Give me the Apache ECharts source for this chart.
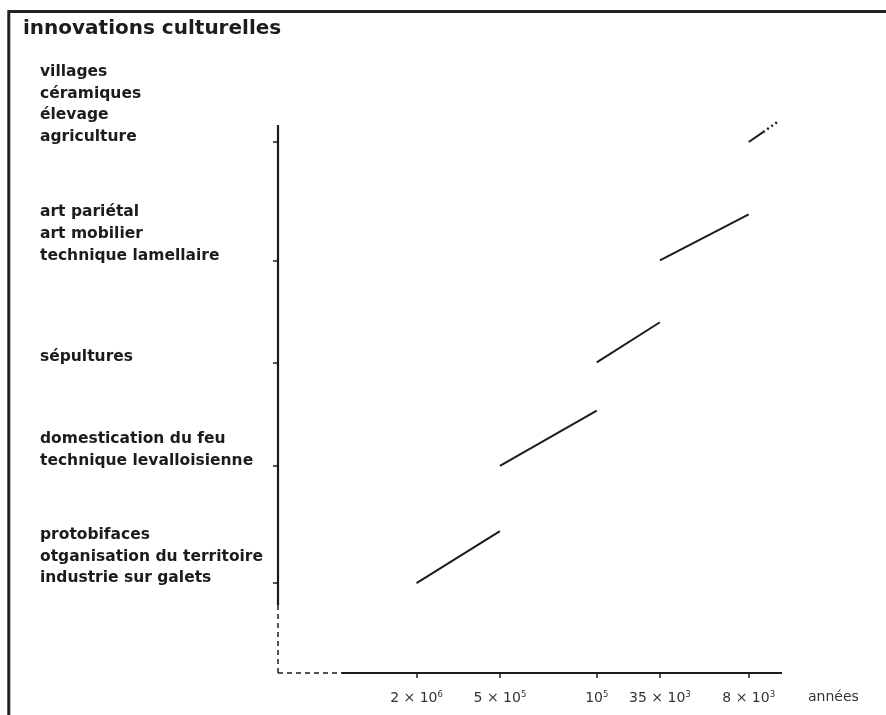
<!DOCTYPE html>
<html>
<head>
<meta charset="utf-8">
<script src="https://cdn.jsdelivr.net/npm/echarts@6/dist/echarts.min.js"></script>
<style>
html,body{margin:0;padding:0;background:#ffffff;}
#c{width:886px;height:715px;}
</style>
</head>
<body>
<div id="c"></div>
<script>
// ---------- data ----------
const chartTitle = 'innovations culturelles';
const innovationGroups = [
  ['protobifaces', 'otganisation du territoire', 'industrie sur galets'],
  ['domestication du feu', 'technique levalloisienne'],
  ['sépultures'],
  ['art pariétal', 'art mobilier', 'technique lamellaire'],
  ['villages', 'céramiques', 'élevage', 'agriculture']
];
// cumulative level (arbitrary 0..100 scale) at start and end of each segment
const levelStart = [16.4, 37.8, 56.7, 75.3, 96.9];
const levelEnd   = [25.9, 47.9, 64.0, 83.7, 98.7];
// years before present
const segStartYears = [2e6, 5e5, 1e5, 35e3, 8e3];
const segEndYears   = [5e5, 1e5, 35e3, 8e3, 6.3e3];
const dottedEndYear = 5.0e3;
const dottedEndLevel = 100.5;
// x tick labels: value, mantissa, exponent
const tickYears     = [2e6, 5e5, 1e5, 35e3, 8e3];
const tickMantissa  = ['2 × ', '5 × ', '', '35 × ', '8 × '];
const tickExponent  = ['6', '5', '5', '3', '3'];
const xAxisName = 'années';
// axis extents
const xMaxYears = 2e7, xMinYears = 4.6e3;
const xDashUntilYears = 7e6;
const yMin = 0, yMax = 100, yDashUntil = 12.4;

// ---------- chart ----------
const L = v => Math.log10(v);
const INK = '#1c1c1c';
const FONT = 'DejaVu Sans';
const near = (a, b) => Math.abs(a - b) < 1e-6;

const segSeries = levelStart.map((ys, i) => ({
  type: 'line',
  data: [[L(segStartYears[i]), ys], [L(segEndYears[i]), levelEnd[i]]],
  symbol: 'none', clip: false, silent: true, z: 3,
  lineStyle: { color: INK, width: 2 }
}));
const dottedSeries = {
  type: 'line',
  data: [[L(segEndYears[4]), levelEnd[4]], [L(dottedEndYear), dottedEndLevel]],
  symbol: 'none', clip: false, silent: true, z: 3,
  lineStyle: { color: INK, width: 2.5, type: [2, 3] }
};
const axisSeg = (data, dashed) => ({
  type: 'line', data, symbol: 'none', clip: false, silent: true, z: 2,
  lineStyle: { color: INK, width: dashed ? 1.5 : 2.2, type: dashed ? [5, 4] : 'solid' }
});
const axisSeries = [
  axisSeg([[L(xMaxYears), yMin], [L(xMaxYears), yDashUntil]], true),
  axisSeg([[L(xMaxYears), yDashUntil], [L(xMaxYears), yMax]], false),
  axisSeg([[L(xMaxYears), yMin], [L(xDashUntilYears), yMin]], true),
  axisSeg([[L(xDashUntilYears), yMin], [L(xMinYears), yMin]], false)
];

const xTickVals = tickYears.map(L);

const option = {
  backgroundColor: '#ffffff',
  animation: false,
  title: {
    text: chartTitle, left: 23, top: 19, padding: 0,
    textStyle: { fontFamily: FONT, fontSize: 20, fontWeight: 'bold', color: INK }
  },
  grid: { left: 278, right: 104, top: 125, bottom: 42, containLabel: false, outerBoundsMode: 'none' },
  xAxis: {
    type: 'value', inverse: true, min: L(xMinYears), max: L(xMaxYears),
    axisLine: { show: false }, splitLine: { show: false },
    axisTick: { show: true, customValues: xTickVals, length: 5, lineStyle: { color: INK, width: 1.5 } },
    axisLabel: {
      customValues: xTickVals, margin: 17,
      formatter: v => {
        const i = xTickVals.findIndex(t => near(t, v));
        if (i < 0) return '';
        return '{b|' + tickMantissa[i] + '10}{s|' + tickExponent[i] + '}';
      },
      rich: {
        b: { fontFamily: FONT, fontSize: 14, color: '#333', lineHeight: 16 },
        s: { fontFamily: FONT, fontSize: 8.5, color: '#333', lineHeight: 12, verticalAlign: 'top' }
      }
    },
    name: xAxisName, nameLocation: 'start', nameGap: 26,
    nameTextStyle: { fontFamily: FONT, fontSize: 14, color: '#333', align: 'left', verticalAlign: 'top', padding: [17, 0, 0, 0] }
  },
  yAxis: {
    type: 'value', min: yMin, max: yMax,
    axisLine: { show: false }, splitLine: { show: false },
    axisTick: { show: true, customValues: levelStart, length: 5, lineStyle: { color: INK, width: 1.5 } },
    axisLabel: {
      customValues: levelStart, margin: 238, align: 'left', verticalAlign: 'bottom',
      fontFamily: FONT, fontSize: 15.5, fontWeight: 'bold', color: INK, lineHeight: 21.7,
      padding: [0, 0, -6, 0],
      formatter: v => {
        const i = levelStart.findIndex(t => near(t, v));
        return i < 0 ? '' : innovationGroups[i].join('\n');
      }
    }
  },
  graphic: [{
    type: 'polyline', silent: true,
    shape: { points: [[8.8, 715], [8.8, 11.5], [886, 11.5]] },
    style: { stroke: '#222', lineWidth: 3, fill: null }
  }],
  series: [...axisSeries, ...segSeries, dottedSeries]
};

const chart = echarts.init(document.getElementById('c'));
chart.setOption(option);
</script>
</body>
</html>
